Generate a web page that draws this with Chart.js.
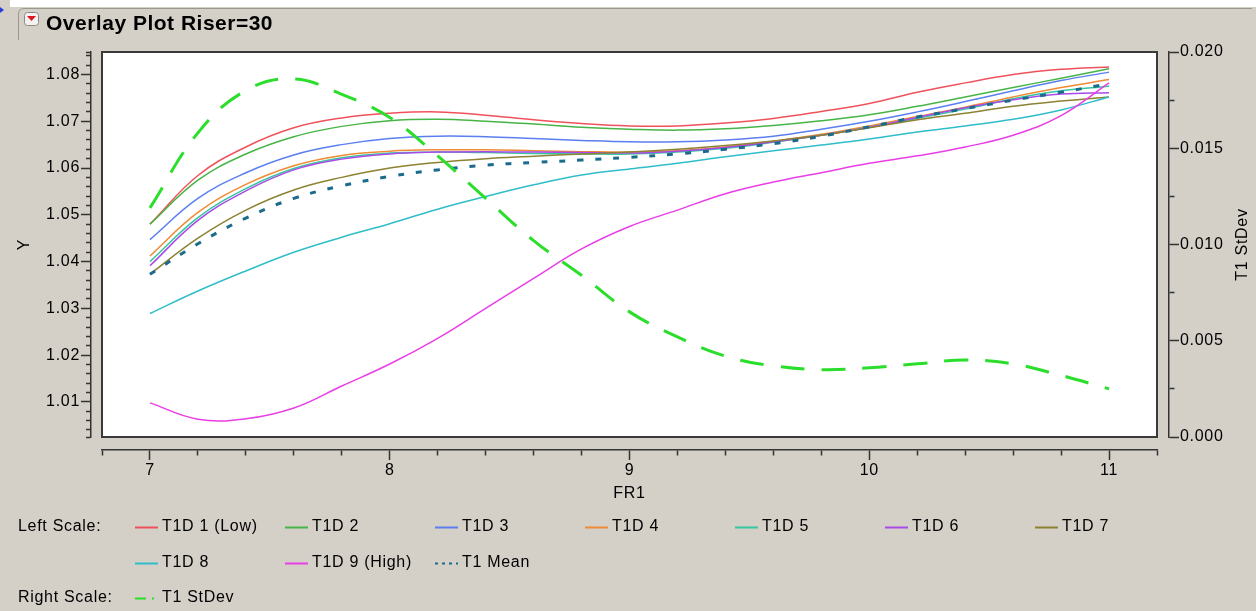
<!DOCTYPE html>
<html><head><meta charset="utf-8">
<script src="https://cdn.jsdelivr.net/npm/chart.js@4/dist/chart.umd.min.js"></script>
<style>html,body{margin:0;padding:0;background:#d4d0c8;}canvas{display:block;}</style>
</head><body>
<canvas id="c" width="1256" height="611"></canvas>
<script>
// ---------- data ----------
const FR1   = [7.0,7.2,7.4,7.6,7.8,8.0,8.2,8.4,8.6,8.8,9.0,9.2,9.4,9.6,9.8,10.0,10.2,10.4,10.6,10.8,11.0];
const T1D1  = [1.0480,1.0584,1.0645,1.0686,1.0707,1.0717,1.0720,1.0713,1.0703,1.0695,1.0690,1.0690,1.0696,1.0706,1.0721,1.0738,1.0762,1.0782,1.0800,1.0811,1.0816];
const T1D2  = [1.0480,1.0574,1.0630,1.0667,1.0689,1.0701,1.0704,1.0700,1.0694,1.0687,1.0683,1.0681,1.0684,1.0691,1.0701,1.0714,1.0732,1.0752,1.0772,1.0792,1.0812];
const T1D3  = [1.0447,1.0535,1.0590,1.0628,1.0650,1.0663,1.0668,1.0667,1.0663,1.0659,1.0656,1.0656,1.0660,1.0668,1.0683,1.0700,1.0720,1.0742,1.0765,1.0787,1.0805];
const T1D4  = [1.0412,1.0505,1.0565,1.0605,1.0627,1.0636,1.0639,1.0639,1.0637,1.0635,1.0634,1.0637,1.0645,1.0657,1.0672,1.0690,1.0710,1.0730,1.0752,1.0772,1.0789];
const T1D5  = [1.0400,1.0494,1.0556,1.0599,1.0622,1.0632,1.0634,1.0633,1.0631,1.0630,1.0630,1.0634,1.0642,1.0655,1.0670,1.0687,1.0706,1.0726,1.0748,1.0765,1.0775];
const T1D6  = [1.0391,1.0488,1.0551,1.0596,1.0619,1.0630,1.0634,1.0635,1.0634,1.0633,1.0632,1.0636,1.0644,1.0656,1.0670,1.0687,1.0708,1.0729,1.0746,1.0758,1.0761];
const T1D7  = [1.0373,1.0450,1.0510,1.0553,1.0580,1.0600,1.0612,1.0620,1.0625,1.0630,1.0634,1.0640,1.0648,1.0658,1.0670,1.0686,1.0703,1.0717,1.0732,1.0743,1.0752];
const T1D8  = [1.0289,1.0337,1.0380,1.0420,1.0452,1.0481,1.0512,1.0539,1.0564,1.0585,1.0598,1.0610,1.0624,1.0637,1.0649,1.0662,1.0677,1.0690,1.0704,1.0724,1.0752];
const T1D9  = [1.0098,1.0063,1.0064,1.0087,1.0134,1.0181,1.0236,1.0300,1.0364,1.0427,1.0475,1.0510,1.0545,1.0570,1.0590,1.0610,1.0626,1.0645,1.0670,1.0712,1.0782];
const T1MEAN= [1.0373,1.0438,1.0493,1.0535,1.0562,1.0582,1.0596,1.0606,1.0612,1.0617,1.0623,1.0630,1.0640,1.0652,1.0668,1.0688,1.0709,1.0727,1.0745,1.0762,1.0780];
const T1STDEV=[0.0119,0.0158,0.0180,0.0186,0.0178,0.0166,0.0146,0.0124,0.0102,0.0084,0.0065,0.0052,0.0042,0.0037,0.0035,0.0036,0.0038,0.0040,0.0038,0.0032,0.0025];

const LABELS = ['T1D 1 (Low)','T1D 2','T1D 3','T1D 4','T1D 5','T1D 6','T1D 7','T1D 8','T1D 9 (High)','T1 Mean','T1 StDev'];
const VALUES = [T1D1,T1D2,T1D3,T1D4,T1D5,T1D6,T1D7,T1D8,T1D9,T1MEAN,T1STDEV];
const TITLE = 'Overlay Plot Riser=30';
const X_TITLE = 'FR1', Y_TITLE = 'Y', Y2_TITLE = 'T1 StDev';

// ---------- styles ----------
const COLORS = ['#f0525c','#47b447','#5b7ff0','#ef8a35','#36c7a0','#a94ae8','#8c8232','#2fbdca','#e93ee6','#1b6b8c','#2bde2b'];
const FONT = 'Liberation Sans, Arial, sans-serif';
const SPACING = '0.7px';

const datasets = LABELS.map((lab, i) => {
  const isMean = i === 9, isSd = i === 10;
  return {
    label: lab,
    data: FR1.map((x, k) => ({x, y: VALUES[i][k]})),
    yAxisID: isSd ? 'y1' : 'y',
    borderColor: COLORS[i],
    backgroundColor: COLORS[i],
    borderWidth: isSd ? 3 : (isMean ? 3 : 1.5),
    borderDash: isSd ? [24, 17] : (isMean ? [6, 12] : []),
    pointRadius: 0,
    fill: false,
    tension: 0.4,
    order: isSd ? 0 : (isMean ? 1 : 11 - i)
  };
});

const near = (v, step) => Math.abs(v / step - Math.round(v / step)) < 1e-6;

// shift the axes away from the plot frame, like the original
const SHIFT = {x: [0, 13], y: [-11, 0], y1: [12, 0]};
const frame = {
  id: 'frame',
  beforeLayout(chart) {
    chart.ctx.letterSpacing = SPACING;
    for (const id in SHIFT) {
      const s = chart.scales[id];
      if (s && !s.__wrapped) {
        const orig = s.draw;
        s.draw = function (area) {
          const c = this.ctx; c.save(); c.translate(SHIFT[id][0], SHIFT[id][1]);
          c.letterSpacing = SPACING;
          orig.call(this, area); c.restore();
        };
        s.__wrapped = true;
      }
    }
  },
  beforeDraw(chart) {
    const {ctx, chartArea: a} = chart;
    ctx.save();
    ctx.letterSpacing = '0px';
    ctx.fillStyle = '#d4d0c8'; ctx.fillRect(0, 0, chart.width, chart.height);
    ctx.fillStyle = '#ffffff'; ctx.fillRect(10, 0, chart.width - 10, 7);
    // header outline
    ctx.strokeStyle = '#9a978f'; ctx.lineWidth = 1;
    ctx.beginPath();
    ctx.moveTo(18.5, 40); ctx.lineTo(18.5, 14); ctx.quadraticCurveTo(18.5, 8.5, 24, 8.5); ctx.lineTo(chart.width - 4, 8.5);
    ctx.stroke();
    // blue marker
    ctx.fillStyle = '#2a3cd8'; ctx.beginPath(); ctx.moveTo(0, 7); ctx.lineTo(4, 10); ctx.lineTo(0, 13); ctx.fill();
    // red triangle icon
    ctx.fillStyle = '#f4f2ee'; ctx.strokeStyle = '#8a8a8a';
    ctx.beginPath(); ctx.roundRect(24.5, 12.5, 14, 13, 3); ctx.fill(); ctx.stroke();
    ctx.fillStyle = '#e0141e'; ctx.beginPath(); ctx.moveTo(27, 16); ctx.lineTo(36, 16); ctx.lineTo(31.5, 21); ctx.closePath(); ctx.fill();
    // title
    ctx.fillStyle = '#000'; ctx.font = 'bold 21px ' + FONT; ctx.textBaseline = 'alphabetic';
    ctx.letterSpacing = '0.5px';
    ctx.fillText(TITLE, 46, 30);
    // plot frame fill
    ctx.fillStyle = '#ffffff'; ctx.fillRect(a.left, a.top, a.right - a.left, a.bottom - a.top);
    ctx.restore();
  },
  afterDatasetsDraw(chart) {
    const {ctx, chartArea: a} = chart;
    ctx.save();
    ctx.strokeStyle = '#3a3a3a'; ctx.lineWidth = 2;
    ctx.strokeRect(a.left, a.top, a.right - a.left, a.bottom - a.top);
    ctx.restore();
  },
  afterDraw(chart) {
    const ctx = chart.ctx;
    ctx.save();
    ctx.fillStyle = '#000';
    ctx.font = '16px ' + FONT; ctx.letterSpacing = SPACING; ctx.textBaseline = 'middle';
    // right axis title, reading bottom to top
    ctx.save(); ctx.translate(1243, (chart.chartArea.top + chart.chartArea.bottom) / 2); ctx.rotate(-Math.PI / 2);
    ctx.textAlign = 'center'; ctx.fillText(Y2_TITLE, 0, 0); ctx.restore();
    // legend
    ctx.textAlign = 'left';
    ctx.fillText('Left Scale:', 18, 527);
    ctx.fillText('Right Scale:', 18, 598);
    const slots = [];
    for (let i = 0; i < 7; i++) slots.push([135 + 150 * i, 527]);
    for (let i = 0; i < 3; i++) slots.push([135 + 150 * i, 563]);
    slots.push([135, 598]);
    chart.data.datasets.forEach((ds, i) => {
      const [x0, y0] = slots[i];
      ctx.save();
      ctx.strokeStyle = ds.borderColor;
      if (i === 9) { ctx.lineWidth = 2; ctx.setLineDash([3, 4]); }
      else if (i === 10) { ctx.lineWidth = 2; ctx.setLineDash([11, 6, 2, 100]); }
      else { ctx.lineWidth = 2; ctx.setLineDash([]); }
      ctx.beginPath(); ctx.moveTo(x0, y0 + 0.5); ctx.lineTo(x0 + 23, y0 + 0.5); ctx.stroke();
      ctx.restore();
      ctx.fillText(ds.label, x0 + 27, y0);
    });
    ctx.restore();
  }
};

const tickFont = {family: FONT, size: 16};

new Chart(document.getElementById('c'), {
  type: 'line',
  data: {datasets},
  plugins: [frame],
  options: {
    responsive: false, animation: false, devicePixelRatio: 1,
    layout: {padding: {top: 52, left: 0, right: 0, bottom: 0}},
    plugins: {legend: {display: false}, title: {display: false}, tooltip: {enabled: false}},
    scales: {
      x: {
        type: 'linear', position: 'bottom', min: 6.8, max: 11.2,
        border: {display: true, color: '#333', width: 1.5},
        afterFit(s) { s.height = 174; },
        afterBuildTicks(s) { const t = []; for (let i = 0; i <= 22; i++) t.push({value: Math.round((6.8 + 0.2 * i) * 10) / 10}); s.ticks = t; },
        ticks: {autoSkip: false, maxRotation: 0, minRotation: 0, padding: 1, color: '#000', font: tickFont,
          callback: (v) => near(v, 1) ? String(Math.round(v)) : ''},
        grid: {drawOnChartArea: false, tickLength: 10, tickColor: '#333', tickWidth: 1.5,
          tickBorderDash: (c) => (c.tick && near(c.tick.value, 1)) ? [] : [5, 100]},
        title: {display: true, text: X_TITLE, color: '#000', font: tickFont, padding: {top: 0, bottom: 121}}
      },
      y: {
        type: 'linear', position: 'left', min: 1.0025, max: 1.0848,
        border: {display: true, color: '#333', width: 1.5},
        afterFit(s) { s.width = 102; },
        afterBuildTicks(s) { const t = [{value: 1.0025}]; for (let i = 2; i <= 42; i++) t.push({value: Math.round((1 + 0.002 * i) * 1000) / 1000}); t.push({value: 1.0848}); s.ticks = t; },
        ticks: {autoSkip: false, padding: 1, color: '#000', font: tickFont,
          callback: (v) => near(v, 0.01) ? v.toFixed(2) : ''},
        grid: {drawOnChartArea: false, tickLength: 10, tickColor: '#333', tickWidth: 1.5,
          tickBorderDash: (c) => (c.tick && near(c.tick.value, 0.01)) ? [] : [0, 5, 6, 0]},
        title: {display: true, text: Y_TITLE, color: '#000', font: tickFont, padding: {top: 26, bottom: 0}}
      },
      y1: {
        type: 'linear', position: 'right', min: 0, max: 0.02,
        border: {display: true, color: '#333', width: 1.5},
        afterFit(s) { s.width = 99; },
        afterBuildTicks(s) { const t = []; for (let i = 0; i <= 8; i++) t.push({value: Math.round(0.0025 * i * 10000) / 10000}); s.ticks = t; },
        ticks: {autoSkip: false, padding: 1, color: '#000', font: tickFont,
          callback: (v) => near(v, 0.005) ? v.toFixed(3) : ''},
        grid: {drawOnChartArea: false, tickLength: 10, tickColor: '#333', tickWidth: 1.5,
          tickBorderDash: (c) => (c.tick && near(c.tick.value, 0.005)) ? [] : [5, 100]},
        title: {display: false}
      }
    }
  }
});
</script>
</body></html>
